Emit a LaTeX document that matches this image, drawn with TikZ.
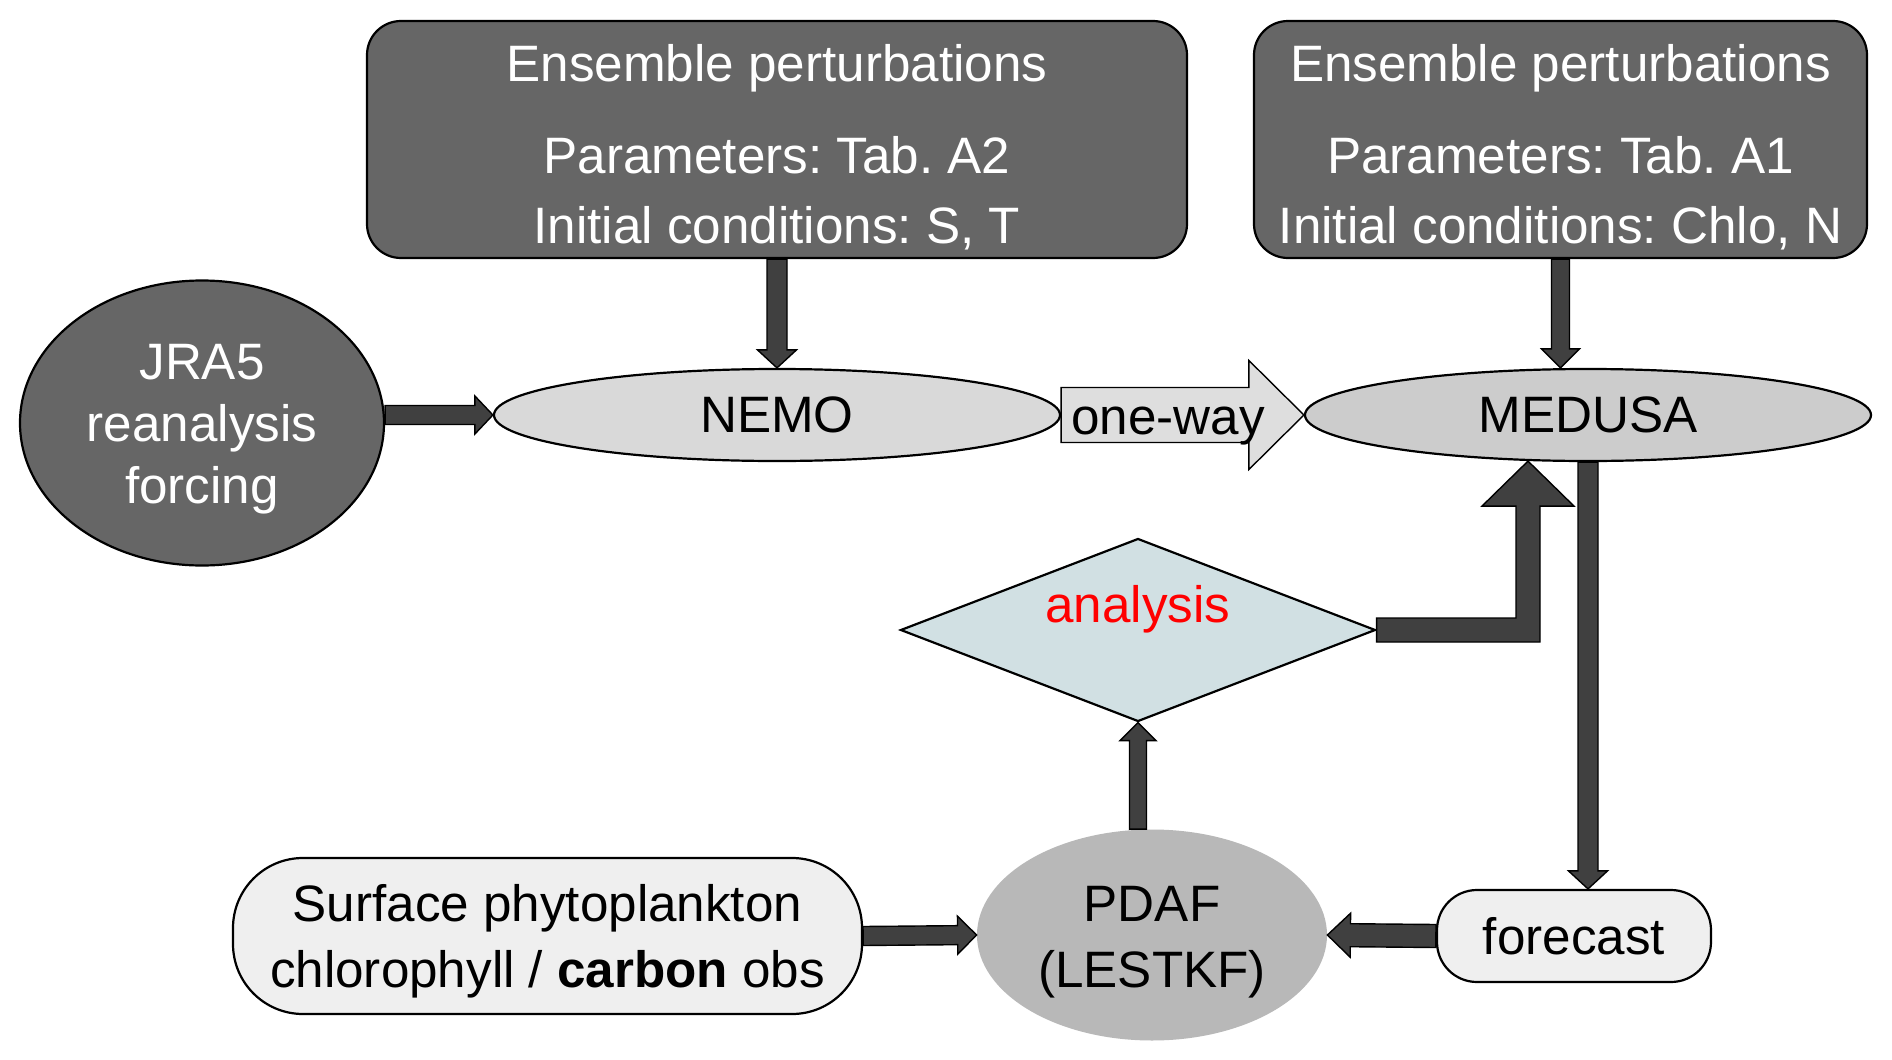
\documentclass[tikz,border=0pt]{standalone}
\usepackage{fontspec}
\setmainfont{Liberation Sans}
\frenchspacing
\usetikzlibrary{calc,shapes.geometric}
\definecolor{darkbox}{HTML}{666666}
\definecolor{arrowgray}{HTML}{404040}
\definecolor{nemofill}{HTML}{D9D9D9}
\definecolor{medusafill}{HTML}{CCCCCC}
\definecolor{pdaffill}{HTML}{B8B8B8}
\definecolor{anfill}{HTML}{D1E0E3}
\definecolor{lightbox}{HTML}{EFEFEF}
\definecolor{owfill}{HTML}{DEDEDE}
\newcommand\blkarrow[6][barrow]{%
  \coordinate (ba-h) at ($(#3)!#6!(#2)$);
  \draw[#1] ($(#2)!#4!90:(#3)$) -- ($(ba-h)!#4!90:(#3)$) -- ($(ba-h)!#5!90:(#3)$) -- (#3)
    -- ($(ba-h)!#5!-90:(#3)$) -- ($(ba-h)!#4!-90:(#3)$) -- ($(#2)!#4!-90:(#3)$) -- cycle;}
\begin{document}
\begin{tikzpicture}[x=0.5pt,y=-0.5pt,
  every node/.style={font=\fontsize{25.6}{35}\selectfont, inner sep=0pt},
  darkrect/.style={draw=black, line width=1.1pt, fill=darkbox, text=white, rounded corners=17pt, align=center},
  darkell/.style={draw=black, line width=1.1pt, fill=darkbox, text=white, ellipse, align=center},
  modell/.style={draw=black, line width=1.1pt, ellipse},
  lightrect/.style={draw=black, line width=1.1pt, fill=lightbox, align=center},
  barrow/.style={draw=black, line width=0.7pt, fill=arrowgray},
  owarrow/.style={draw=black, line width=0.7pt, fill=owfill}]
\useasboundingbox (0,0) rectangle (1892,1060);
\fill[white] (0,0) rectangle (1892,1060);

\node[darkrect, minimum width=410pt, minimum height=118.5pt] (box1) at (777,139.5)
  {\rule{0pt}{26.7pt}Ensemble perturbations\\[11pt]Parameters: Tab. A2\\Initial conditions: S, T};
\node[darkrect, minimum width=306.5pt, minimum height=118.5pt] (box2) at (1560.5,139.5)
  {\rule{0pt}{26.7pt}Ensemble perturbations\\[11pt]Parameters: Tab. A1\\Initial conditions: Chlo, N};
\node[darkell, minimum width=182pt, minimum height=142.5pt, font=\fontsize{25.6}{31}\selectfont] (jra) at (202,423)
  {\rule{0pt}{24.3pt}JRA5\\reanalysis\\forcing};
\node[modell, fill=nemofill, minimum width=283pt, minimum height=46pt] (nemo) at (777,415) {NEMO};
\node[modell, fill=medusafill, minimum width=283pt, minimum height=46pt] (medusa) at (1588,415) {MEDUSA};
\node[diamond, draw=black, line width=1.1pt, fill=anfill, minimum width=237.5pt, minimum height=91.5pt] (an) at (1138,630) {};
\node[text=red] (antext) at (1138,609) {analysis};
\node[ellipse, fill=pdaffill, minimum width=175pt, minimum height=105.5pt, align=center, font=\fontsize{25.6}{33}\selectfont] (pdaf) at (1152,935)
  {\rule{0pt}{24.3pt}PDAF\\(LESTKF)};
\node[lightrect, rounded corners=35pt, minimum width=314.5pt, minimum height=78pt, font=\fontsize{25.6}{33}\selectfont] (obs) at (547.5,936)
  {\rule{0pt}{23.7pt}Surface phytoplankton\\chlorophyll / \textbf{carbon} obs};
\node[lightrect, rounded corners=20pt, minimum width=137pt, minimum height=46pt] (forecast) at (1574,936) {forecast};

% connectors
\coordinate (j0) at (jra.east |- nemo.west);
\blkarrow{j0}{nemo.west}{4.75pt}{9.5pt}{9pt}
\blkarrow{box1.south}{nemo.north}{5pt}{9.75pt}{9pt}
\coordinate (m1) at (box2.south |- medusa.north);
\blkarrow{box2.south}{m1}{4.5pt}{9.5pt}{9.5pt}
\blkarrow[owarrow]{nemo.east}{medusa.west}{13.75pt}{27.25pt}{27.5pt}
\node (owtext) at (1168,426) {one-way};
\coordinate (f1) at (medusa.south |- forecast.north);
\blkarrow{medusa.south}{f1}{5pt}{9.75pt}{9pt}
\blkarrow{forecast.west}{pdaf.east}{5.75pt}{11pt}{11.5pt}
\blkarrow{obs.east}{pdaf.west}{4.75pt}{9.5pt}{9.5pt}
\coordinate (p1) at (pdaf.north -| an.south);
\blkarrow{p1}{an.south}{4.25pt}{9pt}{9pt}
% elbow analysis -> MEDUSA
\coordinate (atip) at ($(medusa.south)+(-60,-1)$);
\coordinate (acorner) at (an.east -| atip);
\draw[barrow] ($(an.east)+(0,-12)$) -- ($(acorner)+(-12,-12)$) -- ($(atip)+(-12,45)$)
  -- ($(atip)+(-46,45)$) -- (atip) -- ($(atip)+(46,45)$) -- ($(atip)+(12,45)$)
  -- ($(acorner)+(12,12)$) -- ($(an.east)+(0,12)$) -- cycle;
\end{tikzpicture}
\end{document}
